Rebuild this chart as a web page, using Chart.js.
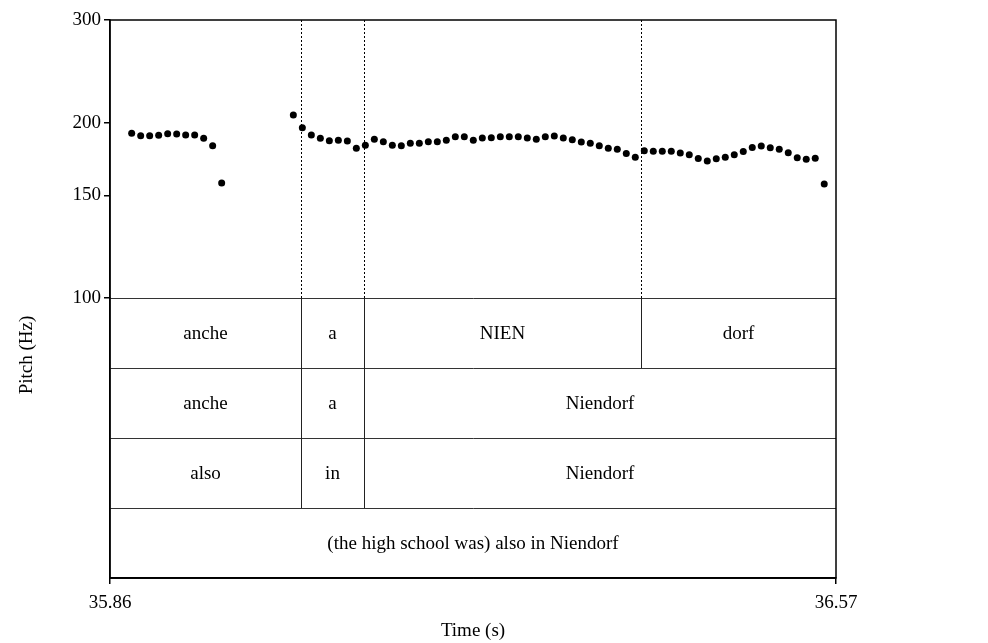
<!DOCTYPE html>
<html>
<head>
<meta charset="utf-8">
<script src="https://cdn.jsdelivr.net/npm/chart.js@4/dist/chart.umd.min.js"></script>
<style>
  html, body { margin: 0; padding: 0; background: #fff; }
  #wrap { width: 988px; height: 643px; }
</style>
</head>
<body>
<div id="wrap"><canvas id="pitch"></canvas></div>
<script>
// pitch track (time in s, F0 in Hz)
const pitchTimes = [
  35.8812, 35.8900, 35.8988, 35.9076, 35.9164, 35.9252, 35.9340, 35.9428, 35.9516, 35.9604, 35.9692,
  36.0393, 36.0481, 36.0569, 36.0657, 36.0745, 36.0833, 36.0921, 36.1009, 36.1097, 36.1185,
  36.1273, 36.1361, 36.1449, 36.1537, 36.1625, 36.1713, 36.1801, 36.1889, 36.1977, 36.2065,
  36.2153, 36.2241, 36.2329, 36.2417, 36.2505, 36.2593, 36.2681, 36.2769, 36.2857, 36.2945,
  36.3033, 36.3121, 36.3209, 36.3297, 36.3385, 36.3473, 36.3561, 36.3649, 36.3737, 36.3825,
  36.3913, 36.4001, 36.4089, 36.4177, 36.4265, 36.4353, 36.4441, 36.4529, 36.4617, 36.4705,
  36.4793, 36.4881, 36.4969, 36.5057, 36.5145, 36.5233, 36.5321, 36.5409, 36.5497, 36.5585
];
const pitchHz = [
  191.7, 189.9, 189.9, 190.2, 191.4, 191.2, 190.4, 190.4, 188.0, 182.5, 157.5,
  206.1, 196.0, 190.4, 188.0, 186.2, 186.5, 186.0, 180.7, 182.8, 187.2,
  185.5, 182.8, 182.6, 184.3, 184.3, 185.5, 185.5, 186.5, 189.2, 189.2,
  186.5, 188.2, 188.4, 189.2, 189.2, 189.2, 188.2, 187.2, 189.2, 189.7,
  188.2, 186.9, 185.3, 184.3, 182.6, 180.7, 180.0, 177.0, 174.4, 179.0,
  178.6, 178.6, 178.6, 177.4, 176.1, 173.5, 171.8, 173.3, 174.4, 176.2,
  178.4, 181.3, 182.3, 181.0, 180.0, 177.5, 174.1, 173.1, 173.8, 156.9
];

const yTicks = [100, 150, 200, 300];
const xTicks = [35.86, 36.57];

// interval tiers
const tier1Edges = [35.86, 36.0468, 36.1084, 36.3793, 36.57];
const tier1Labels = ['anche', 'a', 'NIEN', 'dorf'];
const tier2Edges = [35.86, 36.0468, 36.1084, 36.57];
const tier2Labels = ['anche', 'a', 'Niendorf'];
const tier3Edges = [35.86, 36.0468, 36.1084, 36.57];
const tier3Labels = ['also', 'in', 'Niendorf'];
const tier4Edges = [35.86, 36.57];
const tier4Labels = ['(the high school was) also in Niendorf'];
const dottedMarks = [36.0468, 36.1084, 36.3793];

const tiers = [
  [tier1Edges, tier1Labels],
  [tier2Edges, tier2Labels],
  [tier3Edges, tier3Labels],
  [tier4Edges, tier4Labels]
];

const FONT = '"Liberation Serif", "Times New Roman", serif';
const SIZE = 19;

const tierPlugin = {
  id: 'tiers',
  afterDraw(chart) {
    const { ctx, chartArea: a } = chart;
    const x = chart.scales.x, y = chart.scales.y, t = chart.scales.tier;
    ctx.save();

    // dotted boundary marks in the pitch panel
    ctx.strokeStyle = '#000';
    ctx.lineWidth = 1;
    ctx.setLineDash([2, 2]);
    dottedMarks.forEach(v => {
      const px = Math.round(x.getPixelForValue(v)) + 0.5;
      ctx.beginPath();
      ctx.moveTo(px, y.getPixelForValue(300));
      ctx.lineTo(px, y.getPixelForValue(100));
      ctx.stroke();
    });
    ctx.setLineDash([]);

    // tier boundaries and labels
    ctx.strokeStyle = '#222';
    ctx.fillStyle = '#000';
    ctx.font = SIZE + 'px ' + FONT;
    ctx.textAlign = 'center';
    ctx.textBaseline = 'middle';
    tiers.forEach(([edges, labels], i) => {
      const top = t.getPixelForValue(i), bot = t.getPixelForValue(i + 1);
      for (let k = 1; k < edges.length - 1; k++) {
        const px = Math.round(x.getPixelForValue(edges[k])) + 0.5;
        ctx.beginPath();
        ctx.moveTo(px, top);
        ctx.lineTo(px, bot);
        ctx.stroke();
      }
      labels.forEach((lab, k) => {
        const cx = (x.getPixelForValue(edges[k]) + x.getPixelForValue(edges[k + 1])) / 2;
        ctx.fillText(lab, cx, (top + bot) / 2 + 1);
      });
    });

    // outer frame
    ctx.strokeStyle = '#000';
    ctx.lineWidth = 1.5;
    ctx.strokeRect(a.left, a.top, a.right - a.left, a.bottom - a.top);

    // y title
    ctx.translate(27, 355);
    ctx.rotate(-Math.PI / 2);
    ctx.fillText('Pitch (Hz)', 0, 0);
    ctx.restore();
  }
};

new Chart(document.getElementById('pitch'), {
  type: 'scatter',
  data: {
    datasets: [{
      data: pitchTimes.map((tm, i) => ({ x: tm, y: pitchHz[i] })),
      yAxisID: 'y',
      backgroundColor: '#000',
      borderWidth: 0,
      pointRadius: 3.5
    }]
  },
  options: {
    responsive: true,
    maintainAspectRatio: false,
    animation: false,
    layout: { padding: { top: 20, right: 152, left: 0, bottom: 0 } },
    plugins: { legend: { display: false }, tooltip: { enabled: false } },
    scales: {
      x: {
        type: 'linear',
        min: 35.86,
        max: 36.57,
        afterBuildTicks: s => { s.ticks = xTicks.map(v => ({ value: v })); },
        afterFit: s => { s.height = 65; },
        grid: { drawOnChartArea: false, tickLength: 6, color: '#000', lineWidth: 1.5 },
        border: { display: true, color: '#000', width: 1.5 },
        ticks: { color: '#000', padding: 8, font: { family: FONT, size: SIZE }, maxRotation: 0,
                 callback: v => v.toFixed(2) },
        title: { display: true, text: 'Time (s)', color: '#000', font: { family: FONT, size: SIZE },
                 padding: { top: 0, bottom: 1 } }
      },
      tier: {
        type: 'linear',
        position: 'left',
        stack: 'left',
        stackWeight: 280,
        min: 0,
        max: 4,
        reverse: true,
        afterBuildTicks: s => { s.ticks = [0, 1, 2, 3, 4].map(v => ({ value: v })); },
        afterFit: s => { s.width = 110; },
        grid: { drawTicks: false, color: '#333', lineWidth: 1 },
        border: { display: true, color: '#000', width: 1.5 },
        ticks: { display: false }
      },
      y: {
        type: 'logarithmic',
        position: 'left',
        stack: 'left',
        stackWeight: 278,
        min: 100,
        max: 300,
        afterBuildTicks: s => { s.ticks = yTicks.map(v => ({ value: v })); },
        afterFit: s => { s.width = 110; },
        grid: { drawOnChartArea: false, tickLength: 6, color: '#000', lineWidth: 1.5 },
        border: { display: true, color: '#000', width: 1.5 },
        ticks: { color: '#000', padding: 3, font: { family: FONT, size: SIZE },
                 callback: v => String(v) }
      }
    }
  },
  plugins: [tierPlugin]
});
</script>
</body>
</html>
